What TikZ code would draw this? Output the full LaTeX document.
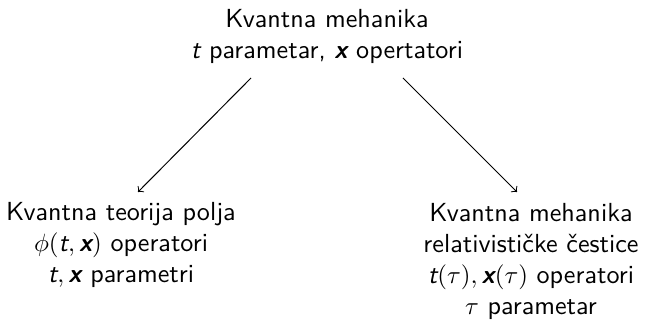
\documentclass[tikz,border=0pt]{standalone}
\usepackage{amsmath}
\newcommand{\si}[1]{\text{\sffamily\itshape #1}}
\newcommand{\sbi}[1]{\text{\sffamily\bfseries\itshape #1}}
\begin{document}
\begin{tikzpicture}[x=0.4pt,y=-0.4pt,
  lbl/.style={align=center,font=\fontsize{10.45}{12.4}\selectfont\sffamily,inner sep=0pt},
  arr/.style={->,line width=0.4pt}]
\useasboundingbox (0,0) rectangle (654,332);
\node[lbl] (top) at (327,36) {Kvantna mehanika\\ $\si{t}$ parametar, $\sbi{x}$ opertatori};
\node[lbl] (left) at (121,245) {Kvantna teorija polja\\ $\phi(\si{t},\sbi{x})$ operatori\\ $\si{t},\sbi{x}$ parametri};
\node[lbl] (right) at (531,261) {Kvantna mehanika\\ relativističke čestice\\ $\si{t}(\tau),\sbi{x}(\tau)$ operatori\\ $\tau$ parametar};
\coordinate (s1) at (251,78);
\coordinate (e1) at (138,192);
\coordinate (s2) at (403,78);
\coordinate (e2) at (517,192);
\draw[arr] (s1) -- (e1);
\draw[arr] (s2) -- (e2);
\end{tikzpicture}
\end{document}
